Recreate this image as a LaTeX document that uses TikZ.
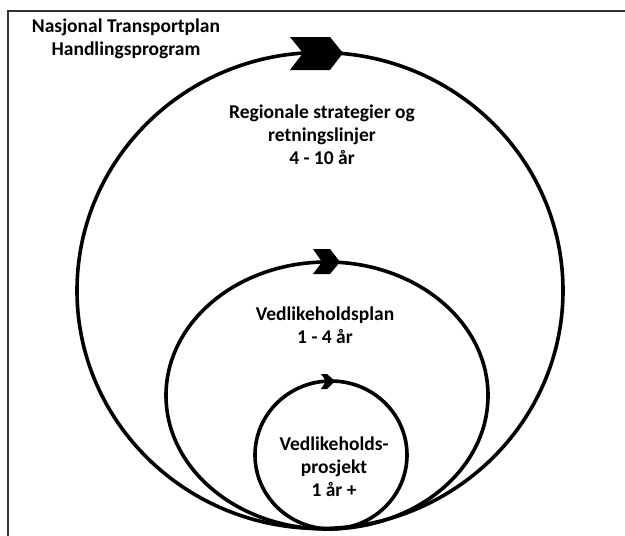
\documentclass[tikz,border=0pt]{standalone}
\usepackage{fontspec}
\setmainfont{Carlito}
\begin{document}
\begin{tikzpicture}[x=1pt,y=-1pt,
  ring/.style={line width=3.6pt,black},
  frameline/.style={line width=2pt,black!80},
  lbl/.style={font=\fontsize{19.5}{23}\selectfont\bfseries,align=center,inner sep=0pt,text=black},
  chev/.style={fill=black,draw=none}]
\useasboundingbox (0,0) rectangle (625,536);
\draw[frameline] (625,11) -- (8,11) -- (8,536);
% rings
\draw[ring] (320,290.5) ellipse [x radius=243, y radius=238];
\draw[ring] (327,395.5) ellipse [x radius=161, y radius=133.5];
\draw[ring] (331,455) ellipse [x radius=76, y radius=74];
% arrowheads
\fill[chev] (290,37) -- (330,37) -- (343,53) -- (330,70) -- (290,70) -- (303,53) -- cycle;
\fill[chev] (313,249) -- (330,249) -- (340,262) -- (330,274) -- (313,274) -- (322,262) -- cycle;
\fill[chev] (321,374) -- (327,374) -- (335,381) -- (327,389) -- (321,389) -- (326,381) -- cycle;
% labels
\node[lbl] (title) at (126,38.5) {Nasjonal Transportplan\\Handlingsprogram};
\node[lbl] (reg) at (322,135) {Regionale strategier og\\retningslinjer\\4 - 10 år};
\node[lbl] (plan) at (325,325.5) {Vedlikeholdsplan\\1 - 4 år};
\node[lbl] (proj) at (334,466.5) {Vedlikeholds-\\prosjekt\\1 år +};
\end{tikzpicture}
\end{document}
